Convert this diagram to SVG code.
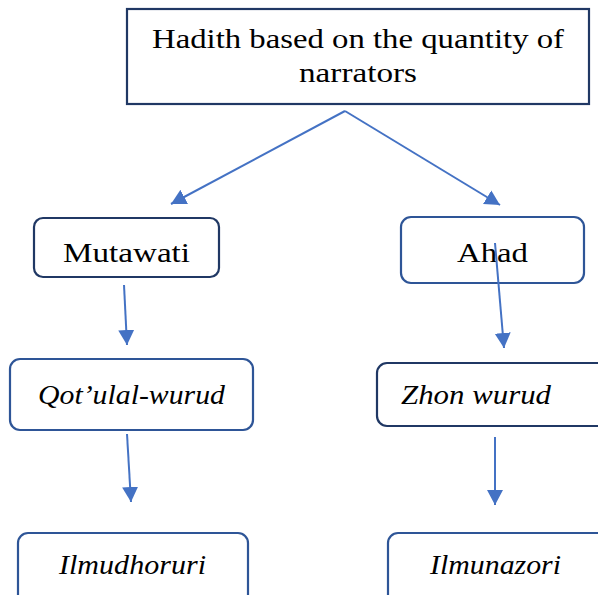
<svg xmlns="http://www.w3.org/2000/svg" width="598" height="595" viewBox="0 0 598 595">
<style>
.box{fill:#fff;stroke-width:2.2}
.dk{stroke:#203864}
.md{stroke:#2E5597}
.t{font-family:"Liberation Serif","Times New Roman",serif;font-size:28px;fill:#000}
.i{font-style:italic}
.c{fill:none;stroke:#4472C4;stroke-width:2}
</style>
<defs>
<marker id="ah" markerUnits="userSpaceOnUse" markerWidth="20" markerHeight="20" refX="15" refY="8" orient="auto">
<path d="M0,0 L15,8 L0,16 Z" fill="#4472C4"/>
</marker>
</defs>
<rect width="598" height="595" fill="#fff"/>
<g id="root">
<rect class="box dk" x="127" y="9" width="462" height="95"/>
<text class="t" x="152" y="48" textLength="412" lengthAdjust="spacingAndGlyphs">Hadith based on the quantity of</text>
<text class="t" x="299" y="82" textLength="118" lengthAdjust="spacingAndGlyphs">narrators</text>
</g>
<g id="mutawati">
<rect class="box dk" x="34" y="218" width="185" height="59" rx="9"/>
<text class="t" x="63" y="262" textLength="127" lengthAdjust="spacingAndGlyphs">Mutawati</text>
</g>
<g id="ahad">
<rect class="box md" x="401" y="217" width="183" height="66" rx="10"/>
<text class="t" x="457" y="262" textLength="71" lengthAdjust="spacingAndGlyphs">Ahad</text>
</g>
<g id="qotulal">
<rect class="box md" x="10" y="359" width="243" height="71" rx="10"/>
<text class="t i" x="38" y="404" textLength="187" lengthAdjust="spacingAndGlyphs">Qot’ulal-wurud</text>
</g>
<g id="zhon">
<rect class="box dk" x="377" y="363" width="240" height="63" rx="10"/>
<text class="t i" x="401" y="404" textLength="150" lengthAdjust="spacingAndGlyphs">Zhon wurud</text>
</g>
<g id="ilmudhoruri">
<rect class="box md" x="18" y="533" width="230" height="80" rx="10"/>
<text class="t i" x="59" y="574" textLength="147" lengthAdjust="spacingAndGlyphs">Ilmudhoruri</text>
</g>
<g id="ilmunazori">
<rect class="box md" x="388" y="533" width="230" height="80" rx="10"/>
<text class="t i" x="430" y="574" textLength="131" lengthAdjust="spacingAndGlyphs">Ilmunazori</text>
</g>
<g id="connectors">
<line class="c" x1="345" y1="111" x2="171" y2="204" marker-end="url(#ah)"/>
<line class="c" x1="345" y1="111" x2="500" y2="205" marker-end="url(#ah)"/>
<line class="c" x1="124" y1="285" x2="127" y2="345" marker-end="url(#ah)"/>
<line class="c" x1="495" y1="243" x2="504" y2="348" marker-end="url(#ah)"/>
<line class="c" x1="127" y1="434" x2="131" y2="502" marker-end="url(#ah)"/>
<line class="c" x1="495" y1="437" x2="495" y2="505" marker-end="url(#ah)"/>
</g>
</svg>
